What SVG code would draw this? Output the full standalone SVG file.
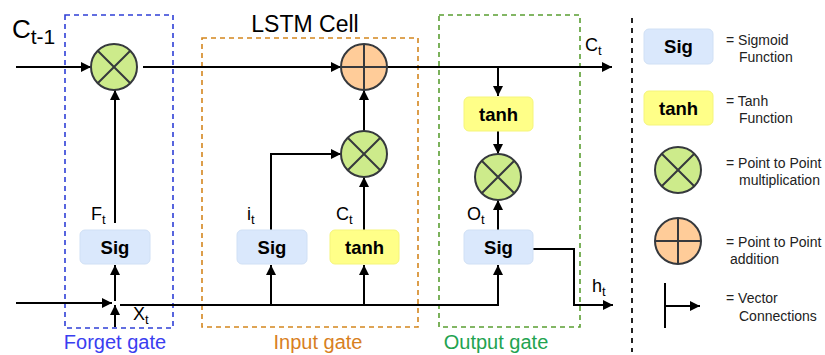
<svg xmlns="http://www.w3.org/2000/svg" width="825" height="355" viewBox="0 0 825 355">
<defs>
<marker id="arr" markerUnits="userSpaceOnUse" markerWidth="10" markerHeight="10" viewBox="0 0 10 10" refX="10" refY="5" orient="auto">
<path d="M0,0 L10,5 L0,10 z" fill="#000"/>
</marker>
<g id="mul"><circle r="23" fill="#cdeb8b" stroke="#36393d" stroke-width="2"/><path d="M-16.3,-16.3 L16.3,16.3 M16.3,-16.3 L-16.3,16.3" stroke="#36393d" stroke-width="2"/></g>
<g id="add"><circle r="23" fill="#ffcc99" stroke="#36393d" stroke-width="2"/><path d="M-23,0 L23,0 M0,-23 L0,23" stroke="#36393d" stroke-width="2"/></g>
</defs>
<style>
text{font-family:"Liberation Sans",Arial,sans-serif;fill:#000}
.lbl{font-size:18px}
.sub{font-size:13px}
.box{font-size:18.5px;font-weight:bold}
.leg{font-size:14px;fill:#222}
.gl{font-size:20px}
.sig{fill:#dae8fc;stroke:#d0e0f5;stroke-width:1}
.tanh{fill:#ffff88;stroke:#f5f57a;stroke-width:1}
.ln{fill:none;stroke:#000;stroke-width:2}
.gate{fill:none;stroke-width:1.6;stroke-dasharray:5,4}
</style>

<g id="gates">
<rect class="gate" x="65" y="15" width="108" height="313" stroke="#2f3fd6"/>
<rect class="gate" x="202" y="38" width="216" height="289" stroke="#d4861e"/>
<rect class="gate" x="439" y="15" width="141" height="312" stroke="#5a9e32"/>
<line x1="632" y1="18" x2="632" y2="352" stroke="#222" stroke-width="2" stroke-dasharray="5,5"/>
<text x="115" y="349" text-anchor="middle" class="gl" style="fill:#3a3ef0">Forget gate</text>
<text x="318" y="349" text-anchor="middle" class="gl" style="fill:#d8801e">Input gate</text>
<text x="496" y="349" text-anchor="middle" class="gl" style="fill:#22a350">Output gate</text>
<text x="305" y="32" text-anchor="middle" style="font-size:23px">LSTM Cell</text>
</g>

<g id="connectors">
<line class="ln" x1="16" y1="67" x2="91" y2="67" marker-end="url(#arr)"/>
<line class="ln" x1="143" y1="67" x2="341" y2="67" marker-end="url(#arr)"/>
<line class="ln" x1="387" y1="67" x2="612" y2="67" marker-end="url(#arr)"/>
<line class="ln" x1="498" y1="67" x2="498" y2="96" marker-end="url(#arr)"/>
<line class="ln" x1="498" y1="131" x2="498" y2="154" marker-end="url(#arr)"/>
<line class="ln" x1="498" y1="230" x2="498" y2="200" marker-end="url(#arr)"/>
<line class="ln" x1="364" y1="131" x2="364" y2="90" marker-end="url(#arr)"/>
<line class="ln" x1="364" y1="230" x2="364" y2="177" marker-end="url(#arr)"/>
<polyline class="ln" points="271,230 271,154 341,154" marker-end="url(#arr)"/>
<line class="ln" x1="115" y1="223" x2="115" y2="90" marker-end="url(#arr)"/>
<line class="ln" x1="16" y1="303" x2="112" y2="303" marker-end="url(#arr)"/>
<line class="ln" x1="115" y1="327" x2="115" y2="305" marker-end="url(#arr)"/>
<line class="ln" x1="115" y1="301" x2="115" y2="265" marker-end="url(#arr)"/>
<polyline class="ln" points="120,305 498,305 498,265" marker-end="url(#arr)"/>
<line class="ln" x1="271" y1="305" x2="271" y2="265" marker-end="url(#arr)"/>
<line class="ln" x1="364" y1="305" x2="364" y2="265" marker-end="url(#arr)"/>
<polyline class="ln" points="533,249 574,249 574,305 613,305" marker-end="url(#arr)"/>
</g>

<g id="labels">
<text x="12" y="38" style="font-size:26px">C<tspan dy="6" style="font-size:21px">t-1</tspan></text>
<text x="91" y="220" class="lbl">F<tspan dy="4" class="sub">t</tspan></text>
<text x="247" y="220" class="lbl">i<tspan dy="4" class="sub">t</tspan></text>
<text x="336" y="220" class="lbl">C<tspan dy="4" class="sub">t</tspan></text>
<text x="467" y="220" class="lbl">O<tspan dy="4" class="sub">t</tspan></text>
<text x="133" y="320" class="lbl">X<tspan dy="4" class="sub">t</tspan></text>
<text x="585" y="51" class="lbl">C<tspan dy="4" class="sub">t</tspan></text>
<text x="592" y="292" class="lbl">h<tspan dy="4" class="sub">t</tspan></text>
</g>

<g id="forget-mul"><use href="#mul" x="114" y="67"/></g>
<g id="cell-add"><use href="#add" x="364" y="67"/></g>
<g id="input-mul"><use href="#mul" x="364" y="154"/></g>
<g id="output-mul"><use href="#mul" x="498" y="177"/></g>

<g id="forget-sig"><rect class="sig" x="80" y="230" width="70" height="34" rx="5"/><text class="box" x="115" y="254" text-anchor="middle">Sig</text></g>
<g id="input-sig"><rect class="sig" x="237" y="230" width="70" height="34" rx="5"/><text class="box" x="272" y="254" text-anchor="middle">Sig</text></g>
<g id="input-tanh"><rect class="tanh" x="330" y="230" width="69" height="34" rx="5"/><text class="box" x="364.5" y="254" text-anchor="middle">tanh</text></g>
<g id="output-sig"><rect class="sig" x="464" y="230" width="69" height="34" rx="5"/><text class="box" x="498.5" y="254" text-anchor="middle">Sig</text></g>
<g id="output-tanh"><rect class="tanh" x="464" y="97" width="69" height="34" rx="5"/><text class="box" x="498.5" y="121" text-anchor="middle">tanh</text></g>

<g id="legend-sig"><rect class="sig" x="644" y="29" width="69" height="35" rx="5"/><text class="box" x="678.5" y="53" text-anchor="middle">Sig</text>
<text class="leg" x="726" y="45">= Sigmoid</text><text class="leg" x="739" y="62">Function</text></g>
<g id="legend-tanh"><rect class="tanh" x="644" y="91" width="69" height="34" rx="5"/><text class="box" x="678.5" y="115" text-anchor="middle">tanh</text>
<text class="leg" x="726" y="106">= Tanh</text><text class="leg" x="739" y="123">Function</text></g>
<g id="legend-mul"><use href="#mul" x="678" y="170"/>
<text class="leg" x="726" y="168">= Point to Point</text><text class="leg" x="739" y="185">multiplication</text></g>
<g id="legend-add"><use href="#add" x="678" y="241"/>
<text class="leg" x="726" y="247">= Point to Point</text><text class="leg" x="730" y="264">addition</text></g>
<g id="legend-vec"><line class="ln" x1="665" y1="283" x2="665" y2="328"/><line class="ln" x1="665" y1="306" x2="700" y2="306" marker-end="url(#arr)"/>
<text class="leg" x="726" y="303">= Vector</text><text class="leg" x="739" y="321">Connections</text></g>
</svg>
